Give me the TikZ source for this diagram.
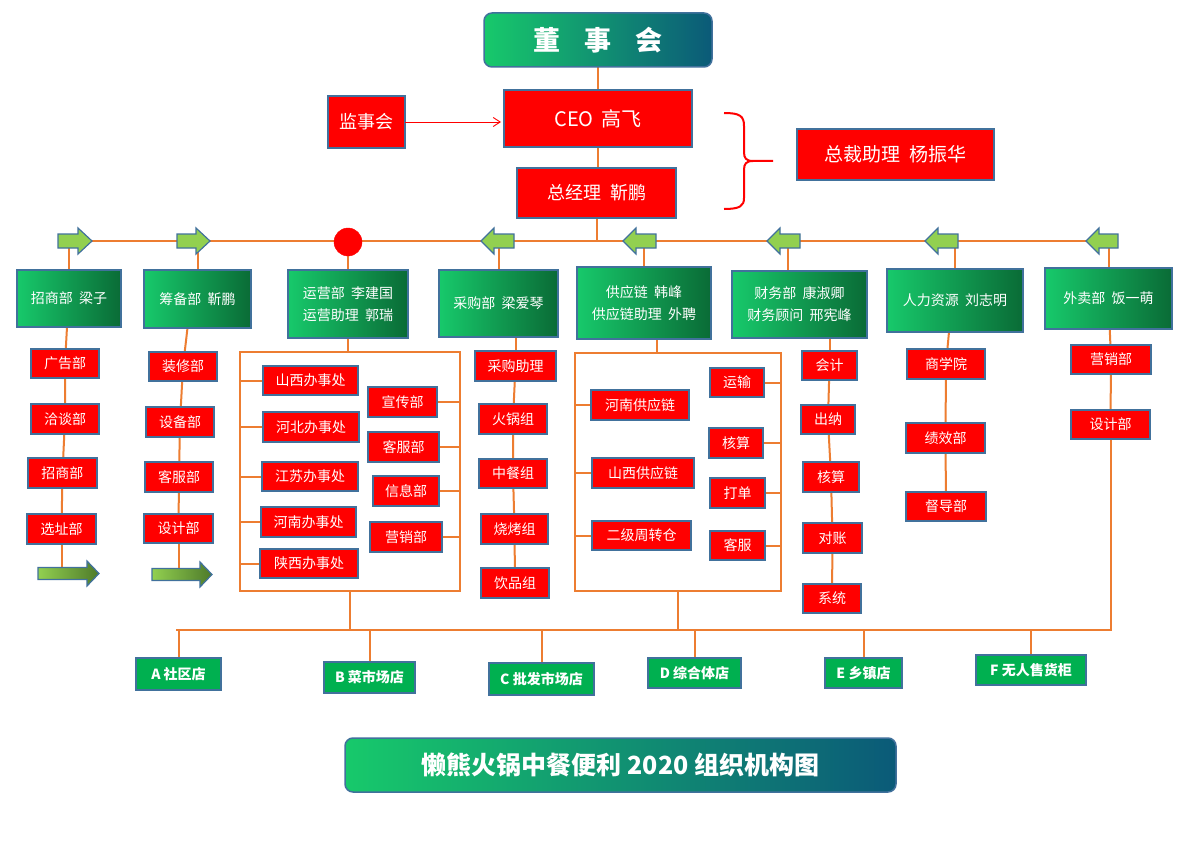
\documentclass[tikz,border=0pt]{standalone}
\usepackage{fontspec}
\setmainfont{Noto Sans CJK SC}
\usetikzlibrary{backgrounds,calc,arrows.meta}
\pgfdeclarelayer{bgzero}
\pgfsetlayers{bgzero,background,main}
\definecolor{ored}{HTML}{FF0000}
\definecolor{bord}{HTML}{41719C}
\definecolor{oline}{HTML}{ED7D31}
\definecolor{gL}{HTML}{17C96B}
\definecolor{gR}{HTML}{0A6B36}
\definecolor{tR}{HTML}{0B5A78}
\definecolor{lg}{HTML}{92D050}
\definecolor{dg}{HTML}{4E7A2A}
\definecolor{store}{HTML}{00B050}
\tikzset{
 box/.style={draw=bord, line width=1.5pt, inner sep=0pt, outer sep=0pt, text=white, align=center},
 redbox/.style={box, fill=ored, font=\fontsize{14}{16}\selectfont},
 deptbox/.style={box, left color=gL, right color=gR, font=\fontsize{14}{22}\selectfont},
 topbox/.style={box, rounded corners=8pt, left color=gL, right color=tR},
 storebox/.style={box, fill=store, font=\bfseries\fontsize{14}{16}\selectfont},
 ol/.style={draw=oline, line width=2pt},
 frame/.style={draw=oline, line width=2pt, inner sep=0pt, outer sep=0pt},
 busarrow/.style={draw=bord, line width=1.2pt, fill=lg},
 bigarrow/.style={draw=bord, line width=1.2pt, left color=lg, right color=dg},
}
\newcommand\placebox[7]{\node[#1, minimum width={(#5-#3)*1pt}, minimum height={(#6-#4)*1pt}] (#2) at ({(#3+#5)/2},{(#4+#6)/2}) {#7};}
% right block arrow: tail x, tip x, y, head length
\newcommand\rblock[4]{\draw[busarrow] (#1,#3-7) -- (#2-#4,#3-7) -- (#2-#4,#3-13) -- (#2,#3) -- (#2-#4,#3+13) -- (#2-#4,#3+7) -- (#1,#3+7) -- cycle;}
% left block arrow: tip x, tail x, y, head length
\newcommand\lblock[4]{\draw[busarrow] (#1,#3) -- (#1+#4,#3-13) -- (#1+#4,#3-7) -- (#2,#3-7) -- (#2,#3+7) -- (#1+#4,#3+7) -- (#1+#4,#3+13) -- cycle;}
\newcommand\bigrblock[3]{\draw[bigarrow] (#1,#3-6) -- (#2-12,#3-6) -- (#2-12,#3-12.5) -- (#2,#3) -- (#2-12,#3+12.5) -- (#2-12,#3+6) -- (#1,#3+6) -- cycle;}
\begin{document}
\begin{tikzpicture}[x=1pt,y=-1pt]
\begin{pgfonlayer}{bgzero}\fill[white] (0,0) rectangle (1200,848);\end{pgfonlayer}
\useasboundingbox (0,0) rectangle (1200,848);

% ---------- top ----------
\placebox{topbox, font=\bfseries\fontsize{27}{30}\selectfont}{board}{484}{13}{712}{67}{董\hspace{0.9em}事\hspace{0.9em}会}
\placebox{redbox, font=\fontsize{20}{22}\selectfont}{ceo}{504}{90}{692}{147}{CEO\hspace{0.4em}高飞}
\placebox{redbox, font=\fontsize{18}{20}\selectfont}{jsh}{328}{96}{405}{148}{监事会}
\placebox{redbox, font=\fontsize{18}{20}\selectfont}{zjl}{517}{168}{676}{218}{总经理\hspace{0.5em}靳鹏}
\placebox{redbox, font=\fontsize{19}{21}\selectfont}{zczl}{797}{129}{994}{180}{总裁助理\hspace{0.5em}杨振华}
\draw[red, line width=0.9pt, -{Straight Barb[length=7pt,width=9pt]}, shorten >=3pt] (jsh.east) -- (jsh.east -| ceo.west);
\draw[red, line width=2pt] (724,113) .. controls (740,113) and (744,116) .. (744,126) -- (744,152) .. controls (744,158) and (746,161) .. (753,161) -- (773,161);
\draw[red, line width=2pt] (753,161) .. controls (746,161) and (744,164) .. (744,170) -- (744,198) .. controls (744,206) and (740,209) .. (724,209);

\coordinate (busL) at (80,241);
\coordinate (busR) at (1100,241);
\coordinate (lowL) at (176,630);
\coordinate (lowR) at (1111,630);

% ---------- departments ----------
\placebox{deptbox}{d1}{17}{270}{121}{327}{招商部\hspace{0.45em}梁子}
\placebox{deptbox}{d2}{144}{270}{251}{328}{筹备部\hspace{0.45em}靳鹏}
\placebox{deptbox}{d3}{288}{270}{408}{338}{运营部\hspace{0.45em}李建国\\运营助理\hspace{0.45em}郭瑞}
\placebox{deptbox}{d4}{439}{270}{558}{337}{采购部\hspace{0.45em}梁爱琴}
\placebox{deptbox}{d5}{577}{267}{711}{339}{供应链\hspace{0.45em}韩峰\\供应链助理\hspace{0.45em}外聘}
\placebox{deptbox}{d6}{732}{271}{867}{338}{财务部\hspace{0.45em}康淑卿\\财务顾问\hspace{0.45em}邢宪峰}
\placebox{deptbox}{d7}{887}{269}{1023}{332}{人力资源\hspace{0.45em}刘志明}
\placebox{deptbox}{d8}{1045}{268}{1172}{329}{外卖部\hspace{0.45em}饭一萌}

% column 1
\placebox{redbox}{c1a}{31}{349}{99}{378}{广告部}
\placebox{redbox}{c1b}{31}{404}{99}{434}{洽谈部}
\placebox{redbox}{c1c}{28}{458}{97}{488}{招商部}
\placebox{redbox}{c1d}{27}{514}{96}{544}{选址部}
\coordinate (arrA) at (66,568);
% column 2
\placebox{redbox}{c2a}{149}{352}{217}{381}{装修部}
\placebox{redbox}{c2b}{146}{407}{214}{437}{设备部}
\placebox{redbox}{c2c}{145}{462}{213}{492}{客服部}
\placebox{redbox}{c2d}{144}{514}{213}{543}{设计部}
\coordinate (arrB) at (181,568);
% column 3
\node[frame, minimum width=220pt, minimum height=239pt] (f3) at (350,471.5) {};
\placebox{redbox}{l1}{263}{366}{358}{395}{山西办事处}
\placebox{redbox}{l2}{263}{412}{359}{442}{河北办事处}
\placebox{redbox}{l3}{262}{462}{358}{491}{江苏办事处}
\placebox{redbox}{l4}{261}{507}{356}{537}{河南办事处}
\placebox{redbox}{l5}{260}{549}{358}{578}{陕西办事处}
\placebox{redbox}{r1}{368}{387}{437}{417}{宣传部}
\placebox{redbox}{r2}{368}{432}{439}{462}{客服部}
\placebox{redbox}{r3}{373}{476}{439}{506}{信息部}
\placebox{redbox}{r4}{370}{522}{442}{552}{营销部}
% column 4
\placebox{redbox}{c4a}{475}{351}{556}{381}{采购助理}
\placebox{redbox}{c4b}{479}{404}{547}{434}{火锅组}
\placebox{redbox}{c4c}{479}{459}{547}{488}{中餐组}
\placebox{redbox}{c4d}{481}{514}{548}{544}{烧烤组}
\placebox{redbox}{c4e}{481}{568}{549}{598}{饮品组}
% column 5
\node[frame, minimum width=206pt, minimum height=238pt] (f5) at (678,472) {};
\placebox{redbox}{m1}{591}{390}{689}{420}{河南供应链}
\placebox{redbox}{m2}{592}{458}{694}{488}{山西供应链}
\placebox{redbox}{m3}{592}{521}{691}{550}{二级周转仓}
\placebox{redbox}{n1}{710}{368}{764}{397}{运输}
\placebox{redbox}{n2}{709}{428}{763}{458}{核算}
\placebox{redbox}{n3}{710}{478}{765}{508}{打单}
\placebox{redbox}{n4}{710}{531}{765}{560}{客服}
% column 6
\placebox{redbox}{c6a}{802}{351}{857}{380}{会计}
\placebox{redbox}{c6b}{801}{405}{855}{434}{出纳}
\placebox{redbox}{c6c}{803}{462}{859}{492}{核算}
\placebox{redbox}{c6d}{803}{523}{862}{553}{对账}
\placebox{redbox}{c6e}{803}{584}{861}{613}{系统}
% column 7
\placebox{redbox}{c7a}{907}{349}{985}{379}{商学院}
\placebox{redbox}{c7b}{906}{423}{985}{453}{绩效部}
\placebox{redbox}{c7c}{906}{492}{986}{521}{督导部}
% column 8
\placebox{redbox}{c8a}{1071}{345}{1151}{374}{营销部}
\placebox{redbox}{c8b}{1071}{410}{1150}{439}{设计部}

% ---------- stores ----------
\placebox{storebox}{sA}{136}{658}{221}{690}{A 社区店}
\placebox{storebox}{sB}{324}{662}{415}{693}{B 菜市场店}
\placebox{storebox}{sC}{489}{663}{594}{695}{C 批发市场店}
\placebox{storebox}{sD}{648}{658}{741}{688}{D 综合体店}
\placebox{storebox}{sE}{825}{658}{902}{688}{E 乡镇店}
\placebox{storebox}{sF}{976}{655}{1086}{685}{F 无人售货柜}

% ---------- title ----------
\placebox{topbox, font=\bfseries\fontsize{25}{28}\selectfont}{title}{345}{738}{896}{792}{懒熊火锅中餐便利 2020 组织机构图}

% red hub
\node[circle, fill=ored, draw=ored, minimum size=28pt, inner sep=0pt] (hub) at (348,242) {};

% ---------- connectors ----------
\begin{scope}[on background layer]
\draw[ol] (board) -- (ceo);
\draw[ol] (ceo.south) -- (ceo.south |- zjl.north);
\draw[ol] (busL) -- (busR);
\draw[ol] (zjl.south) -- (zjl.south |- busL);
\foreach \d in {d1,d2,d4,d5,d7,d8}{\draw[ol] (\d.north) -- (\d.north |- busL);}
\path (d6.north) ++(-12,0) coordinate (t6);
\draw[ol] (t6) -- (t6 |- busL);
\draw[ol] (hub) -- (d3);
% col 1
\path (d1.south) ++(-2,0) coordinate (s1);
\draw[ol] (s1) -- (c1a) -- (c1b) -- (c1c) -- (c1d);
\draw[ol] (c1d.south) -- (c1d.south |- arrA);
% col 2
\path (d2.south) ++(-10,0) coordinate (s2);
\draw[ol] (s2) -- (c2a) -- (c2b) -- (c2c) -- (c2d);
\draw[ol] (c2d.south) -- (c2d.south |- arrB);
% col 3
\draw[ol] (d3.south) -- (d3.south |- f3.north);
\foreach \b in {l1,l2,l3,l4,l5}{\draw[ol] (f3.west |- \b.west) -- (\b.west);}
\foreach \b in {r1,r2,r3,r4}{\draw[ol] (\b.east) -- (\b.east -| f3.east);}
\draw[ol] (f3.south) -- (f3.south |- lowL);
% col 4
\draw[ol] (c4a.north) -- (c4a.north |- d4.south);
\draw[ol] (c4a) -- (c4b) -- (c4c) -- (c4d) -- (c4e);
% col 5
\path (d5.south) ++(13,0) coordinate (s5);
\draw[ol] (s5) -- (s5 |- f5.north);
\foreach \b in {m1,m2,m3}{\draw[ol] (f5.west |- \b.west) -- (\b.west);}
\foreach \b in {n1,n2,n3,n4}{\draw[ol] (\b.east) -- (\b.east -| f5.east);}
\draw[ol] (f5.south) -- (f5.south |- lowL);
% col 6
\draw[ol] (c6a.north) -- (c6a.north |- d6.south);
\draw[ol] (c6a) -- (c6b) -- (c6c) -- (c6d) -- (c6e);
% col 7
\path (d7.south) ++(-6,0) coordinate (s7);
\draw[ol] (s7) -- (c7a) -- (c7b) -- (c7c);
% col 8
\draw[ol] (d8) -- (c8a) -- (c8b);
\draw[ol] (c8b.south) -- (c8b.south |- lowR) -- (lowL);
% stores
\foreach \s in {sA,sB,sC,sD,sE,sF}{\draw[ol] (\s.north) -- (\s.north |- lowL);}
\end{scope}

% ---------- block arrows ----------
\rblock{58}{92}{241}{14}
\rblock{177}{210}{241}{14}
\lblock{481}{514}{241}{13}
\lblock{623}{656}{241}{13}
\lblock{767}{800}{241}{13}
\lblock{925}{958}{241}{13}
\lblock{1086}{1118}{241}{13}
\bigrblock{38}{99}{573.5}
\bigrblock{152}{212}{574.5}
\end{tikzpicture}
\end{document}
